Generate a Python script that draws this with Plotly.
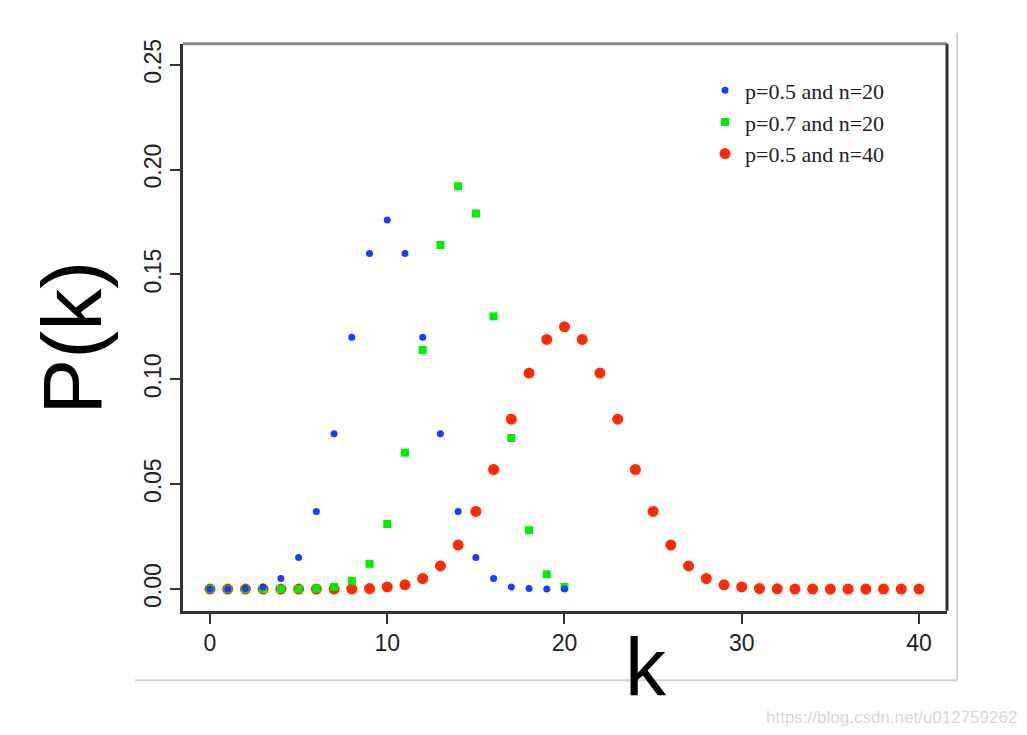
import plotly.graph_objects as go

# ---- data ----
k20 = list(range(0, 21))
k40 = list(range(0, 41))
p05_n20 = [0.000, 0.000, 0.0002, 0.001, 0.005, 0.015, 0.037, 0.074, 0.120, 0.160,
           0.176, 0.160, 0.120, 0.074, 0.037, 0.015, 0.005, 0.001, 0.0002, 0.000, 0.000]
p07_n20 = [0.000, 0.000, 0.000, 0.000, 0.000, 0.000, 0.0002, 0.001, 0.004, 0.012,
           0.031, 0.065, 0.114, 0.164, 0.192, 0.179, 0.130, 0.072, 0.028, 0.007, 0.001]
p05_n40 = [0.000, 0.000, 0.000, 0.000, 0.000, 0.000, 0.000, 0.000, 0.0001, 0.0002,
           0.001, 0.002, 0.005, 0.011, 0.021, 0.037, 0.057, 0.081, 0.103, 0.119,
           0.125, 0.119, 0.103, 0.081, 0.057, 0.037, 0.021, 0.011, 0.005, 0.002,
           0.001, 0.0002, 0.0001, 0.000, 0.000, 0.000, 0.000, 0.000, 0.000, 0.000, 0.000]
names = ["p=0.5 and n=20", "p=0.7 and n=20", "p=0.5 and n=40"]
x_ticks = [0, 10, 20, 30, 40]
y_ticks = [0.00, 0.05, 0.10, 0.15, 0.20, 0.25]
y_ticklabels = ["0.00", "0.05", "0.10", "0.15", "0.20", "0.25"]

W, H = 1027, 735
L, R, T, B = 183, 947, 39, 610

fig = go.Figure()
fig.add_trace(go.Scatter(x=k40, y=p05_n40, mode="markers", name=names[2],
                         marker=dict(symbol="circle", size=11, color="#ff2a00", line=dict(width=0))))
fig.add_trace(go.Scatter(x=k20, y=p07_n20, mode="markers", name=names[1],
                         marker=dict(symbol="square", size=8, color="#00ee00", line=dict(width=0))))
fig.add_trace(go.Scatter(x=k20, y=p05_n20, mode="markers", name=names[0],
                         marker=dict(symbol="circle", size=7, color="#1a3cff", line=dict(width=0))))

tickfont = dict(family="Liberation Sans Narrow, Arial Narrow, Liberation Sans, Arial", size=23, color="#222")

fig.update_layout(
    width=W, height=H,
    margin=dict(l=0, r=0, t=0, b=0),
    paper_bgcolor="white", plot_bgcolor="white",
    showlegend=True,
    legend=dict(x=705 / W, y=1 - 65 / H, xanchor="left", yanchor="top",
                traceorder="reversed", bgcolor="rgba(0,0,0,0)",
                font=dict(family="Liberation Serif, Times New Roman, serif", size=22, color="#222"),
                itemwidth=30, tracegroupgap=0),
    xaxis=dict(domain=[L / W, R / W], range=[-1.523, 41.58], tickvals=x_ticks,
               showgrid=False, zeroline=False, showline=True, linecolor="#333", linewidth=3,
               ticks="outside", ticklen=10, tickwidth=2, tickcolor="#333", tickfont=tickfont),
    yaxis=dict(domain=[1 - B / H, 1 - T / H], range=[-0.0104, 0.26], tickvals=y_ticks,
               ticktext=y_ticklabels, tickangle=-90,
               showgrid=False, zeroline=False, showline=True, linecolor="#333", linewidth=3,
               ticks="outside", ticklen=10, tickwidth=2, tickcolor="#333", tickfont=tickfont),
)

# box top and right edges
fig.add_shape(type="line", xref="paper", yref="paper", x0=L / W, x1=R / W, y0=1 - T / H, y1=1 - T / H,
              line=dict(color="#8a8a8a", width=3))
fig.add_shape(type="line", xref="paper", yref="paper", x0=R / W, x1=R / W, y0=1 - T / H, y1=1 - B / H,
              line=dict(color="#333", width=3))
# light frame of the pasted image
fig.add_shape(type="line", xref="paper", yref="paper", x0=957 / W, x1=957 / W, y0=1 - 28 / H, y1=1 - 680 / H,
              line=dict(color="#d4d4d4", width=2))
fig.add_shape(type="line", xref="paper", yref="paper", x0=135 / W, x1=957 / W, y0=1 - 680 / H, y1=1 - 680 / H,
              line=dict(color="#d4d4d4", width=2))

fig.add_annotation(text="P(k)", xref="paper", yref="paper", x=72 / W, y=1 - 335 / H,
                   showarrow=False, textangle=-90, xanchor="center", yanchor="middle",
                   font=dict(family="Liberation Sans, Arial", size=84, color="black"))
fig.add_annotation(text="k", xref="paper", yref="paper", x=646 / W, y=1 - 666 / H,
                   showarrow=False, xanchor="center", yanchor="middle",
                   font=dict(family="Liberation Sans, Arial", size=82, color="black"))
fig.add_annotation(text="https://blog.csdn.net/u012759262", xref="paper", yref="paper",
                   x=1019 / W, y=1 - 717 / H, showarrow=False, xanchor="right", yanchor="middle",
                   font=dict(family="Liberation Sans, Arial", size=17, color="#d8d8d8"))

fig.write_html("out.html", config={"displayModeBar": False})

# remove the default page margin so the figure sits at the window's top-left corner
with open("out.html", "r", encoding="utf-8") as f:
    html = f.read()
html = html.replace("<body>", '<body style="margin:0;padding:0;">', 1)
with open("out.html", "w", encoding="utf-8") as f:
    f.write(html)
